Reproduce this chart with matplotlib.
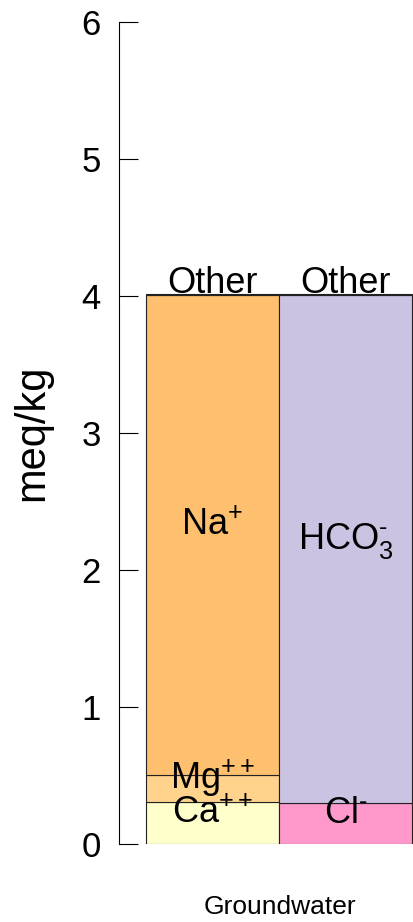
import numpy as np
import matplotlib.pyplot as plt

plt.rcParams['font.family'] = ['Liberation Sans', 'DejaVu Sans']
plt.rcParams['mathtext.fontset'] = 'custom'
plt.rcParams['mathtext.rm'] = 'Liberation Sans'
plt.rcParams['mathtext.it'] = 'Liberation Sans'

# stacked columns, bottom to top
cations = ['Ca$^{++}$', 'Mg$^{++}$', 'Na$^{+}$', 'Other']
cation_vals = [0.307, 0.200, 3.500, 0.008]
cation_cols = ['#FFFFCC', '#FFD38C', '#FEC06E', '#BBBBBB']

anions = ['Cl$^{\u2010}$', 'HCO$_3^{\u2010}$', 'Other']
anion_vals = [0.300, 3.705, 0.008]
anion_cols = ['#FF99CC', '#CBC3E2', '#888888']

sample = 'Groundwater'

fig = plt.figure(figsize=(4.13, 9.22), dpi=100)
ax = fig.add_axes([119 / 413, 78 / 922, 294 / 413, 822 / 922])

def stack(xc, names, vals, cols):
    bottom = 0.0
    for name, v, c in zip(names, vals, cols):
        ax.bar(xc, v, width=1.0, bottom=bottom, color=c,
               edgecolor='#222222', linewidth=0.8)
        if name == 'Other':
            ax.text(xc, bottom + v + 0.01, name, ha='center',
                    va='baseline', fontsize=26)
        else:
            ax.text(xc, bottom + v / 2, name, ha='center',
                    va='baseline', fontsize=26)
        bottom += v

stack(-0.5, cations, cation_vals, cation_cols)
stack(0.5, anions, anion_vals, anion_cols)

ax.set_xlim(-1.203, 1.008)
ax.set_ylim(0, 6)
ax.set_yticks(np.arange(0, 7, 1))
ax.tick_params(axis='y', direction='in', length=13.5, width=0.8,
               labelsize=25, pad=13)
ax.set_xticks([])
for s in ['top', 'right', 'bottom']:
    ax.spines[s].set_visible(False)
ax.spines['left'].set_linewidth(0.8)
ax.set_ylabel('meq/kg', fontsize=30, labelpad=21)

fig.text(279.5 / 413, 1 - 907 / 922, sample, ha='center', va='center',
         fontsize=19)

fig.savefig('out.png', dpi=100)
